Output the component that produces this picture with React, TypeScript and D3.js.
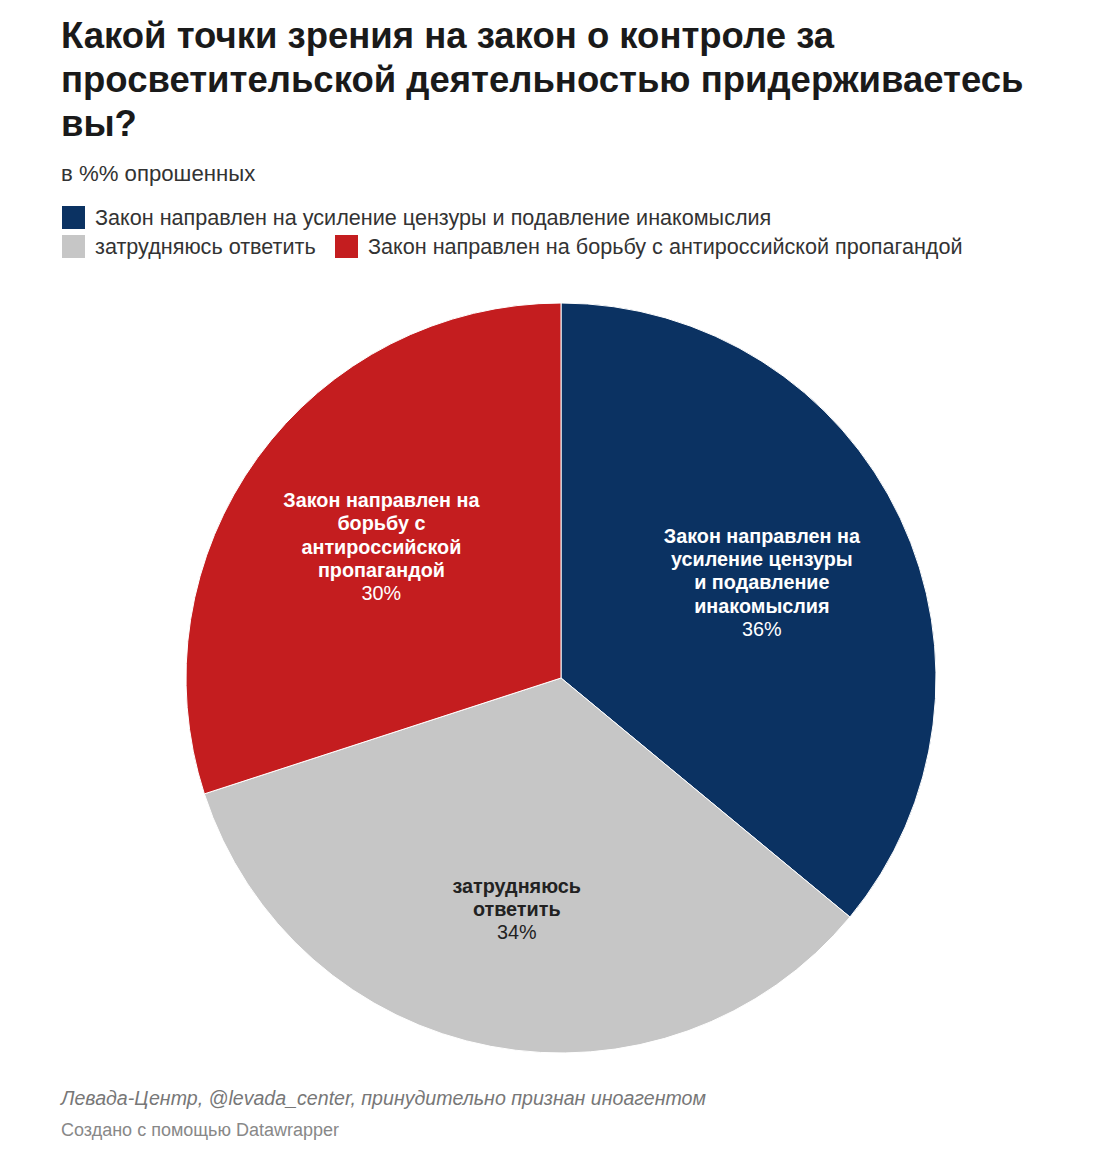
import React from "react";
import * as d3 from "d3";

const categories = [
  "Закон направлен на усиление цензуры и подавление инакомыслия",
  "затрудняюсь ответить",
  "Закон направлен на борьбу с антироссийской пропагандой",
];
const values = [36, 34, 30];
const colors = ["#0b3262", "#c6c6c6", "#c41d1f"];
const labelLines = [
  ["Закон направлен на", "усиление цензуры", "и подавление", "инакомыслия"],
  ["затрудняюсь", "ответить"],
  ["Закон направлен на", "борьбу с", "антироссийской", "пропагандой"],
];
const labelColors = ["#ffffff", "#222222", "#ffffff"];
const labelRadius = [0.592, 0.63, 0.592];
const titleLines = [
  "Какой точки зрения на закон о контроле за",
  "просветительской деятельностью придерживаетесь",
  "вы?",
];

export default function App() {
  const W = 1096, H = 1156;
  const cx = 561, cy = 678, r = 375;
  const pie = d3.pie<number>().sort(null).value((d) => d)(values);
  const arc = d3.arc<d3.PieArcDatum<number>>().innerRadius(0).outerRadius(r);
  const font = "'Liberation Sans', Arial, sans-serif";
  return (
    <svg width={W} height={H} style={{ position: "absolute", left: 0, top: 0, background: "#fff" }} fontFamily={font}>
      <rect width={W} height={H} fill="#fff" />
      {titleLines.map((t, i) => (
        <text key={i} x={61} y={48 + i * 44} fontSize={36.5} fontWeight={700} fill="#1a1a1a">{t}</text>
      ))}
      <text x={61} y={181} fontSize={22.2} fill="#333">в %% опрошенных</text>
      <g fontSize={21.6} fill="#333">
        <rect x={62} y={206} width={23} height={23} fill={colors[0]} />
        <text x={95} y={225}>{categories[0]}</text>
        <rect x={62} y={235} width={23} height={23} fill={colors[1]} />
        <text x={95} y={254}>{categories[1]}</text>
        <rect x={335} y={235} width={23} height={23} fill={colors[2]} />
        <text x={368} y={254}>{categories[2]}</text>
      </g>
      <g transform={`translate(${cx},${cy})`}>
        {pie.map((p, i) => (
          <path key={i} d={arc(p) || ""} fill={colors[i]} stroke="#fff" strokeWidth={1} />
        ))}
        {pie.map((p, i) => {
          const la = d3.arc<d3.PieArcDatum<number>>().innerRadius(r * labelRadius[i]).outerRadius(r * labelRadius[i]);
          const [lx, ly] = la.centroid(p);
          const lines = labelLines[i];
          const n = lines.length + 1;
          const lh = 23.4;
          const y0 = ly - ((n - 1) * lh) / 2 + 6;
          return (
            <g key={"l" + i} fill={labelColors[i]} textAnchor="middle" fontSize={19.8}>
              {lines.map((t, j) => (
                <text key={j} x={lx} y={y0 + j * lh} fontWeight={700}>{t}</text>
              ))}
              <text x={lx} y={y0 + lines.length * lh}>{values[i]}%</text>
            </g>
          );
        })}
      </g>
      <text x={61} y={1105} fontSize={19.6} fontStyle="italic" fill="#777">Левада-Центр, @levada_center, принудительно признан иноагентом</text>
      <text x={61} y={1136} fontSize={18} fill="#888">Создано с помощью Datawrapper</text>
    </svg>
  );
}
